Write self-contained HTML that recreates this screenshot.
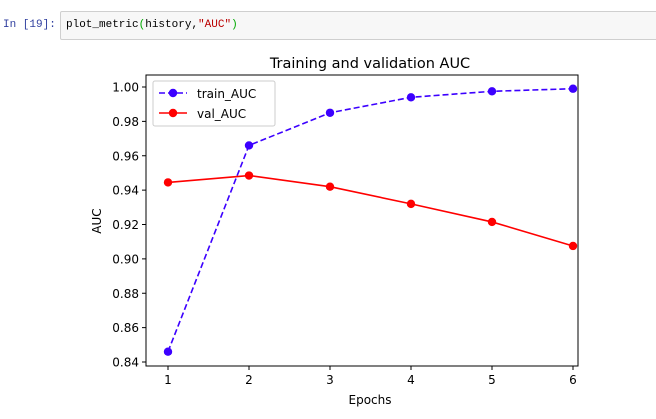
<!DOCTYPE html>
<html><head><meta charset="utf-8"><style>
body{margin:0;width:656px;height:419px;background:#fff;overflow:hidden;position:relative;font-family:"DejaVu Sans","Liberation Sans",sans-serif}
.prompt{position:absolute;left:3px;top:19px;font:11px "Liberation Mono",monospace;color:#303f9f;white-space:pre}
.cell{position:absolute;left:60px;top:11px;width:600px;height:29px;background:#f7f7f7;border:1px solid #cfcfcf;border-radius:2px;box-sizing:border-box}
.code{position:absolute;left:5px;top:7px;font:11px "Liberation Mono",monospace;color:#000;white-space:pre}
</style></head><body>
<div class="prompt">In [19]:</div>
<div class="cell"><div class="code">plot_metric<span style="color:#0a0">(</span>history,<span style="color:#b00">"AUC"</span><span style="color:#0a0">)</span></div></div>
<svg id="chart" width="656" height="419" style="position:absolute;left:0;top:0"></svg>
<script>
const epochs=[1,2,3,4,5,6];
const trainAUC=[0.846,0.966,0.985,0.994,0.9975,0.999];
const valAUC=[0.9445,0.9485,0.942,0.932,0.9215,0.9075];
const yTicks=[0.84,0.86,0.88,0.90,0.92,0.94,0.96,0.98,1.00];
const L=146,R=578,T=75,B=366;
const xs=e=>168+(e-1)*81;
const ys=v=>362-(v-0.84)/0.02*34.375;
const svg=document.getElementById('chart');
const NS='http://www.w3.org/2000/svg';
function mk(tag,attrs,parent){const el=document.createElementNS(NS,tag);for(const k in attrs)el.setAttribute(k,attrs[k]);(parent||svg).appendChild(el);return el;}
let t=mk('text',{x:370,y:68,'text-anchor':'middle','font-size':14.5,fill:'#000'});t.textContent='Training and validation AUC';


yTicks.forEach(v=>{const y=ys(v);mk('line',{x1:L-4,x2:L,y1:y,y2:y,stroke:'#000'});
const tx=mk('text',{x:L-7,y:y+4.5,'text-anchor':'end','font-size':12});tx.textContent=v.toFixed(2);

});
epochs.forEach(e=>{const x=xs(e);mk('line',{x1:x,x2:x,y1:B,y2:B+4,stroke:'#000'});
const tx=mk('text',{x:x,y:B+18,'text-anchor':'middle','font-size':12});tx.textContent=e;

});
t=mk('text',{x:370,y:404,'text-anchor':'middle','font-size':12});t.textContent='Epochs';


t=mk('text',{x:101,y:221,'text-anchor':'middle','font-size':12,transform:'rotate(-90 101 221)'});t.textContent='AUC';


function series(vals,color,dash,name){
const p=mk('polyline',{points:vals.map((v,i)=>xs(epochs[i])+','+ys(v)).join(' '),fill:'none',stroke:color,'stroke-width':1.6,'stroke-dasharray':dash});


vals.forEach((v,i)=>{const c=mk('circle',{cx:xs(epochs[i]),cy:ys(v),r:4.2,fill:color});

});}
series(trainAUC,'#3c00ff','6,3','train-auc');
series(valAUC,'#ff0000','none','val-auc');
const fr=mk('rect',{x:L,y:T,width:R-L,height:B-T,fill:'none',stroke:'#000','stroke-width':1});


const lg=mk('g',{});


mk('rect',{x:153,y:81,width:122,height:45,fill:'#fff',stroke:'#ccc',rx:2},lg);
mk('line',{x1:159,x2:187,y1:93,y2:93,stroke:'#3c00ff','stroke-width':1.6,'stroke-dasharray':'6,3'},lg);
mk('circle',{cx:173,cy:93,r:4.2,fill:'#3c00ff'},lg);
mk('line',{x1:159,x2:187,y1:113,y2:113,stroke:'#ff0000','stroke-width':1.6},lg);
mk('circle',{cx:173,cy:113,r:4.2,fill:'#ff0000'},lg);
t=mk('text',{x:197,y:98,'font-size':12},lg);t.textContent='train_AUC';
t=mk('text',{x:197,y:118,'font-size':12},lg);t.textContent='val_AUC';
</script>
</body></html>
